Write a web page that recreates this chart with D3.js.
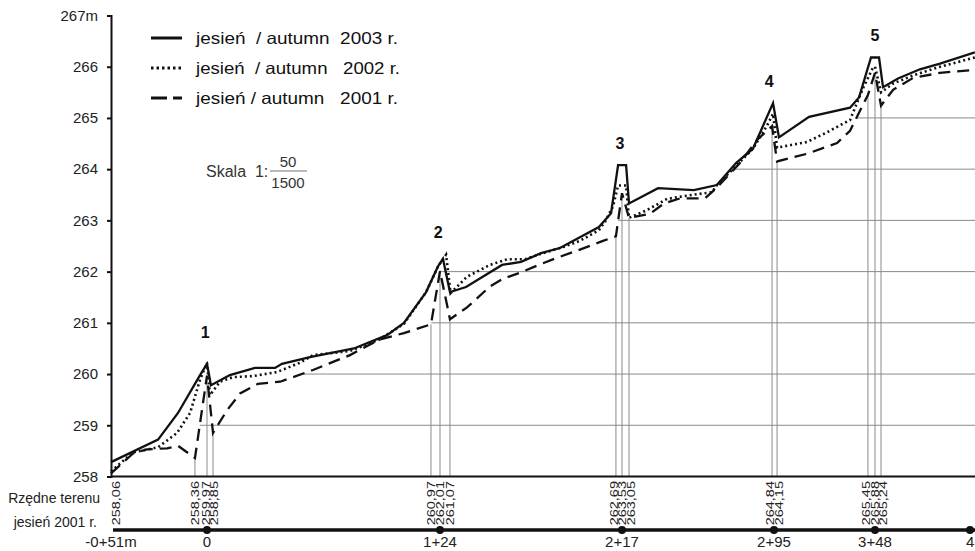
<!DOCTYPE html>
<html>
<head>
<meta charset="utf-8">
<script src="https://cdn.jsdelivr.net/npm/d3@7"></script>
<style>
  html, body { margin: 0; padding: 0; background: #fff; }
  svg { display: block; font-family: "Liberation Sans", Arial, Helvetica, sans-serif; }
  .pre { white-space: pre; }
</style>
</head>
<body>
<svg id="chart" width="975" height="551"></svg>
<script>
// ---- data -------------------------------------------------------------
// Chainage stations along the section (metres) and how they are written
const stationM = [-51, 0, 124, 217, 295, 348, 400];
const stationLabels = ["-0+51m", "0", "1+24", "2+17", "2+95", "3+48", "4+00"];

// Elevation ticks (m a.s.l.)
const elevTicks = [258, 259, 260, 261, 262, 263, 264, 265, 266, 267];

// Longitudinal profiles: [chainage m, elevation m]
const profile2003 = [
  [-51, 258.28], [-26.0, 258.72], [-15.4, 259.24], [-3.7, 259.98], [0, 260.20],
  [2.1, 259.78], [12.2, 259.98], [25.5, 260.12], [36.2, 260.12], [39.9, 260.20],
  [54.8, 260.33], [78.2, 260.50], [95.8, 260.76], [104.8, 261.00], [116.6, 261.60],
  [122.9, 262.10], [125.5, 262.25], [129.1, 261.60], [137.3, 261.70], [155.7, 262.13],
  [165.4, 262.19], [175.6, 262.36], [185.3, 262.46], [205.2, 262.87], [211.4, 263.14],
  [215.0, 264.08], [219.1, 264.08], [220.6, 263.33], [235.5, 263.63], [253.9, 263.59],
  [265.7, 263.69], [275.5, 264.12], [284.2, 264.40], [294.5, 265.29], [297.6, 264.62],
  [313.4, 265.02], [334.9, 265.20], [339.6, 265.40], [345.9, 266.18], [350.2, 266.18],
  [352.4, 265.60], [360.6, 265.77], [372.6, 265.95], [383.6, 266.06], [402.7, 266.28]
];
const profile2002 = [
  [-51, 258.10], [-39.3, 258.47], [-26.0, 258.57], [-15.9, 258.85], [-9.0, 259.24],
  [-3.7, 259.89], [0, 260.22], [1.6, 259.59], [6.9, 259.85], [13.8, 259.94],
  [24.5, 259.96], [37.3, 260.04], [49.5, 260.22], [56.4, 260.37], [76.1, 260.45],
  [91.5, 260.67], [104.8, 260.98], [116.6, 261.60], [122.9, 262.10], [127.1, 262.33],
  [129.4, 261.58], [137.8, 261.90], [149.5, 262.13], [158.2, 262.24], [167.4, 262.24],
  [176.6, 262.36], [186.9, 262.48], [195.5, 262.60], [205.2, 262.81], [208.3, 262.97],
  [212.4, 263.27], [215.0, 263.68], [219.1, 263.68], [220.6, 263.05], [229.8, 263.20],
  [240.1, 263.42], [253.4, 263.50], [263.2, 263.55], [265.7, 263.69], [276.0, 264.08],
  [284.2, 264.40], [291.4, 264.85], [294.5, 265.08], [296.6, 264.42], [312.3, 264.53],
  [322.8, 264.72], [334.9, 264.96], [341.7, 265.58], [346.9, 265.98], [348.0, 266.00],
  [351.3, 265.50], [357.9, 265.67], [368.8, 265.83], [383.6, 266.00], [402.7, 266.18]
];
const profile2001 = [
  [-51, 258.06], [-39.3, 258.45], [-31.9, 258.53], [-21.2, 258.55], [-15.4, 258.60],
  [-6.4, 258.36], [0, 259.97], [3.2, 258.85], [10.6, 259.29], [17.6, 259.62],
  [27.1, 259.81], [38.9, 259.85], [45.8, 259.94], [56.4, 260.08], [76.1, 260.37],
  [91.5, 260.67], [104.8, 260.80], [119.2, 260.97], [124, 262.01], [129.1, 261.07],
  [137.8, 261.30], [149.5, 261.71], [156.2, 261.86], [164.9, 261.98], [175.1, 262.14],
  [183.8, 262.27], [195.5, 262.43], [207.3, 262.60], [213.9, 262.69], [217, 263.53],
  [220.6, 263.05], [231.4, 263.13], [238.5, 263.33], [246.8, 263.43], [259.6, 263.43],
  [265.2, 263.62], [277.5, 264.12], [286.3, 264.57], [294.0, 264.84], [296.6, 264.15],
  [312.3, 264.30], [328.1, 264.51], [334.9, 264.75], [344.3, 265.45], [348, 265.88],
  [351.3, 265.24], [357.9, 265.55], [368.8, 265.78], [383.6, 265.88], [402.7, 265.94]
];

// Chainages where the 2001 ground level is written under the section
const ordinateM = [-51, -6.4, 0, 3.2, 119.2, 124, 129.1, 213.9, 217, 220.6,
                   294.0, 296.6, 344.3, 348, 351.3];

// Numbered structures along the section
const structureNo = ["1", "2", "3", "4", "5"];
const structureM = [-1, 123, 216, 292.5, 348];

// Legend
const legendText = [
  "jesień  / autumn  2003 r.",
  "jesień  / autumn   2002 r.",
  "jesień / autumn   2001 r."
];

// ---- drawing ----------------------------------------------------------
const W = 975, H = 551;
const svg = d3.select("#chart");
const ink = "#111";

const x = d3.scaleLinear()
  .domain(stationM)
  .range([111, 207, 440, 622, 774, 875, 970]);
const y = d3.scaleLinear().domain([258, 267]).range([476.5, 15.5]);

const series = [
  { data: profile2003, width: 2.3, dash: null },
  { data: profile2002, width: 2.6, dash: "2,3" },
  { data: profile2001, width: 2.3, dash: "12,7" }
];

// elevation of the 2001 ground at a surveyed chainage
const ground = m => profile2001.find(p => p[0] === m)[1];

// horizontal reference lines: from where the 2001 ground first reaches the level
const gridG = svg.append("g");
elevTicks.filter(v => v > 258).forEach(level => {
  for (let i = 1; i < profile2001.length; i++) {
    const a = profile2001[i - 1], b = profile2001[i];
    if (a[1] < level && b[1] >= level) {
      const m = a[0] + (b[0] - a[0]) * (level - a[1]) / (b[1] - a[1]);
      gridG.append("line")
        .attr("x1", x(m)).attr("x2", W)
        .attr("y1", y(level)).attr("y2", y(level))
        .attr("stroke", "#8a8a8a").attr("stroke-width", 1);
      break;
    }
  }
});

// ordinate lines down to the datum
svg.append("g").selectAll("line")
  .data(ordinateM.slice(1))
  .join("line")
  .attr("x1", d => x(d)).attr("x2", d => x(d))
  .attr("y1", y(258)).attr("y2", d => y(ground(d)))
  .attr("stroke", "#8a8a8a").attr("stroke-width", 1);

// profiles
const line = d3.line().x(d => x(d[0])).y(d => y(d[1]));
svg.append("g").selectAll("path")
  .data(series)
  .join("path")
  .attr("d", d => line(d.data))
  .attr("fill", "none")
  .attr("stroke", ink)
  .attr("stroke-width", d => d.width)
  .attr("stroke-linejoin", "miter")
  .attr("stroke-dasharray", d => d.dash);

// datum line
svg.append("line")
  .attr("x1", x(-51)).attr("x2", W)
  .attr("y1", y(258)).attr("y2", y(258))
  .attr("stroke", ink).attr("stroke-width", 2);

// elevation axis
const yAxis = d3.axisLeft(y)
  .tickValues(elevTicks)
  .tickSize(4)
  .tickPadding(9)
  .tickFormat(d => d === 267 ? "267m" : d);
const ya = svg.append("g")
  .attr("transform", `translate(${x(-51)},0)`)
  .call(yAxis);
ya.select(".domain").attr("stroke", ink).attr("stroke-width", 2);
ya.selectAll(".tick line").attr("stroke", ink).attr("stroke-width", 2);
ya.selectAll(".tick text")
  .attr("fill", "#222")
  .attr("font-size", 15)
  .attr("font-family", "Liberation Sans, Arial, sans-serif");

// 2001 ground levels written vertically below the datum; labels that would
// collide are spread evenly around the middle of their group
const minGap = 8.6;
const labelX = ordinateM.map(d => x(d));
const groups = [];
labelX.forEach((px, i) => {
  const g = groups[groups.length - 1];
  if (g && px - labelX[g[g.length - 1]] < minGap) g.push(i); else groups.push([i]);
});
const placedX = labelX.slice();
groups.forEach(g => {
  if (g.length < 2) return;
  const mid = d3.mean(g, i => labelX[i]);
  g.forEach((i, k) => { placedX[i] = mid + (k - (g.length - 1) / 2) * minGap; });
});
placedX[0] += 5;

const fmt = d3.format(".2f");
svg.append("g").selectAll("text")
  .data(ordinateM)
  .join("text")
  .attr("transform", (d, i) => `translate(${placedX[i]},481) rotate(-90) scale(1,0.8)`)
  .attr("dy", "0.36em")
  .attr("text-anchor", "end")
  .attr("font-size", 14.5)
  .attr("fill", "#222")
  .text(d => fmt(ground(d)).replace(".", ","));

svg.append("text")
  .attr("x", 100).attr("y", 503)
  .attr("text-anchor", "end")
  .attr("font-size", 14).attr("fill", "#222")
  .text("Rzędne terenu");
svg.append("text")
  .attr("x", 97).attr("y", 527)
  .attr("text-anchor", "end")
  .attr("font-size", 14).attr("fill", "#222")
  .text("jesień 2001 r.");

// chainage line with station dots
const stY = 530;
svg.append("line")
  .attr("x1", x(-51) + 2).attr("x2", W)
  .attr("y1", stY).attr("y2", stY)
  .attr("stroke", ink).attr("stroke-width", 3.5);
svg.append("g").selectAll("circle")
  .data(stationM.slice(1))
  .join("circle")
  .attr("cx", d => x(d)).attr("cy", stY).attr("r", 4)
  .attr("fill", ink);
svg.append("g").selectAll("text")
  .data(stationM)
  .join("text")
  .attr("x", (d, i) => x(d) + (i === stationM.length - 1 ? -4 : 0))
  .attr("y", 547)
  .attr("text-anchor", (d, i) => i === stationM.length - 1 ? "start" : "middle")
  .attr("font-size", 15).attr("fill", "#222")
  .text((d, i) => stationLabels[i]);

// structure numbers above their crests
const allPts = profile2003.concat(profile2002, profile2001);
svg.append("g").selectAll("text")
  .data(structureM)
  .join("text")
  .attr("x", d => x(d))
  .attr("y", (d, i) => y(d3.max(allPts.filter(p => Math.abs(p[0] - d) <= 6), p => p[1])) - (i === 0 ? 30 : 22))
  .attr("dy", "0.35em")
  .attr("text-anchor", "middle")
  .attr("font-size", 16).attr("font-weight", "bold").attr("fill", ink)
  .text((d, i) => structureNo[i]);

// legend
const lg = svg.append("g");
const legendWidth = [202, 204, 202];
series.forEach((s, i) => {
  const ly = 38 + i * 30;
  lg.append("line")
    .attr("x1", 151).attr("x2", 182)
    .attr("y1", ly).attr("y2", ly)
    .attr("stroke", ink)
    .attr("stroke-width", 3)
    .attr("stroke-dasharray", i === 0 ? null : i === 1 ? "2.5,3" : "16,6,9,40");
  lg.append("text")
    .attr("class", "pre")
    .attr("x", 196).attr("y", ly + 6)
    .attr("font-size", 16.5).attr("fill", "#111")
    .attr("textLength", legendWidth[i])
    .attr("lengthAdjust", "spacingAndGlyphs")
    .text(legendText[i]);
});

// scale note
const sk = svg.append("g").attr("fill", "#333");
sk.append("text").attr("class", "pre")
  .attr("x", 206).attr("y", 177)
  .attr("font-size", 16)
  .text("Skala  1:");
sk.append("text").attr("x", 288).attr("y", 167)
  .attr("text-anchor", "middle").attr("font-size", 15).text("50");
sk.append("line").attr("x1", 270).attr("x2", 307)
  .attr("y1", 171).attr("y2", 171)
  .attr("stroke", "#777").attr("stroke-width", 1.2);
sk.append("text").attr("x", 288).attr("y", 188)
  .attr("text-anchor", "middle").attr("font-size", 15).text("1500");
</script>
</body>
</html>
